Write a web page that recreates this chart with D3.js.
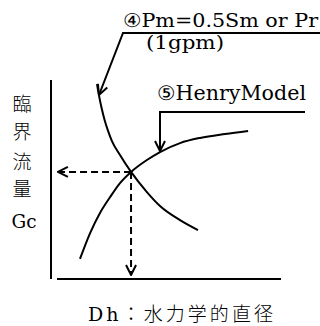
<!DOCTYPE html>
<html>
<head>
<meta charset="utf-8">
<script src="https://cdn.jsdelivr.net/npm/d3@7"></script>
<style>
  body { margin: 0; background: #fff; }
  text { fill: #000; }
  .serif { font-family: "DejaVu Serif", "Liberation Serif", serif; }
  .cjk { font-family: "Noto Sans CJK JP", sans-serif; font-weight: 300; }
</style>
</head>
<body>
<script>
var w = 320, h = 326;

// curve points (x: Dh, y: Gc), arbitrary units 0..100
var pmX = [20, 20.9, 22, 23.3, 24.8, 26.5, 30, 34.8, 41.7, 47.4, 56.1, 63.9];
var pmY = [98, 92, 85.9, 79.9, 74.4, 69.3, 62.3, 53.8, 43.7, 36.7, 29.6, 24.6];
var henryX = [12.6, 17, 21.3, 25.7, 30, 34.8, 41.7, 47.4, 56.1, 64.8, 75.7, 85.7];
var henryY = [10.1, 23.1, 33.2, 41.2, 48.2, 53.8, 59.8, 63.8, 68.3, 70.9, 72.9, 74.4];
var cross = [34.8, 53.8];
var yLabelChars = ["臨", "界", "流", "量"];
var yLabelSym = "Gc";
var xLabelSym = "Dh";
var xLabel = "：水力学的直径";
var pmLabel = ["④Pm=0.5Sm or Pr", "(1gpm)"];
var henryLabel = "⑤HenryModel";

var x = d3.scaleLinear().domain([0, 100]).range([51, 281]);
var y = d3.scaleLinear().domain([0, 100]).range([279, 80]);

var svg = d3.select("body").append("svg")
  .attr("width", w)
  .attr("height", h);

var defs = svg.append("defs");
defs.append("marker")
  .attr("id", "vhead")
  .attr("viewBox", "0 0 12 12")
  .attr("refX", 11).attr("refY", 6)
  .attr("markerWidth", 12).attr("markerHeight", 12)
  .attr("markerUnits", "userSpaceOnUse")
  .attr("orient", "auto")
  .append("path")
  .attr("d", "M1,1 L11,6 L1,11")
  .attr("fill", "none")
  .attr("stroke", "#000")
  .attr("stroke-width", 2);

// axes
svg.append("line")
  .attr("x1", x(0)).attr("x2", x(0))
  .attr("y1", y(100)).attr("y2", y(0))
  .attr("stroke", "#000").attr("stroke-width", 2);
svg.append("line")
  .attr("x1", x(2.6)).attr("x2", x(100))
  .attr("y1", y(0)).attr("y2", y(0))
  .attr("stroke", "#000").attr("stroke-width", 2);

var line = d3.line()
  .x(d => x(d[0]))
  .y(d => y(d[1]))
  .curve(d3.curveMonotoneX);

svg.append("path")
  .datum(d3.zip(pmX, pmY))
  .attr("d", line)
  .attr("fill", "none").attr("stroke", "#000").attr("stroke-width", 2);

svg.append("path")
  .datum(d3.zip(henryX, henryY))
  .attr("d", line)
  .attr("fill", "none").attr("stroke", "#000").attr("stroke-width", 2);

// dashed readouts
svg.append("line")
  .attr("x1", x(cross[0])).attr("y1", y(cross[1]))
  .attr("x2", x(3)).attr("y2", y(cross[1]))
  .attr("stroke", "#000").attr("stroke-width", 2)
  .attr("stroke-dasharray", "7,4")
  .attr("marker-end", "url(#vhead)");
svg.append("line")
  .attr("x1", x(cross[0])).attr("y1", y(cross[1]))
  .attr("x2", x(cross[0])).attr("y2", y(2))
  .attr("stroke", "#000").attr("stroke-width", 2)
  .attr("stroke-dasharray", "7,4")
  .attr("marker-end", "url(#vhead)");

// leader for Pm
svg.append("path")
  .attr("d", "M320,33 L123,33 L99,95")
  .attr("fill", "none").attr("stroke", "#000").attr("stroke-width", 2)
  .attr("marker-end", "url(#vhead)");

// leader for Henry
svg.append("path")
  .attr("d", "M305,112 L160,112 L160,151")
  .attr("fill", "none").attr("stroke", "#000").attr("stroke-width", 2)
  .attr("marker-end", "url(#vhead)");

svg.append("text")
  .attr("class", "serif")
  .attr("x", 123).attr("y", 27)
  .style("font-size", "19px")
  .attr("textLength", 195).attr("lengthAdjust", "spacingAndGlyphs")
  .text(pmLabel[0]);
svg.append("text")
  .attr("class", "serif")
  .attr("x", 146).attr("y", 49)
  .style("font-size", "18px")
  .attr("textLength", 78).attr("lengthAdjust", "spacingAndGlyphs")
  .text(pmLabel[1]);
svg.append("text")
  .attr("class", "serif")
  .attr("x", 157).attr("y", 100)
  .style("font-size", "20px")
  .attr("textLength", 149).attr("lengthAdjust", "spacingAndGlyphs")
  .text(henryLabel);

var yPos = [102, 130, 160, 187];
svg.selectAll(".ylab")
  .data(yLabelChars)
  .enter().append("text")
  .attr("class", "ylab cjk")
  .attr("x", 22)
  .attr("y", (d, i) => yPos[i])
  .attr("text-anchor", "middle")
  .attr("dominant-baseline", "central")
  .style("font-size", "19px")
  .text(d => d);
svg.append("text")
  .attr("class", "serif")
  .attr("x", 24).attr("y", 228)
  .attr("text-anchor", "middle")
  .style("font-size", "19px")
  .attr("textLength", 25).attr("lengthAdjust", "spacingAndGlyphs")
  .text(yLabelSym);

var xl = svg.append("text")
  .attr("x", 88).attr("y", 321);
xl.append("tspan")
  .attr("class", "serif")
  .style("font-size", "19px")
  .text(xLabelSym);
xl.append("tspan")
  .attr("class", "cjk")
  .style("font-size", "19px")
  .text(xLabel);
xl.attr("textLength", 185).attr("lengthAdjust", "spacing");
</script>
</body>
</html>
